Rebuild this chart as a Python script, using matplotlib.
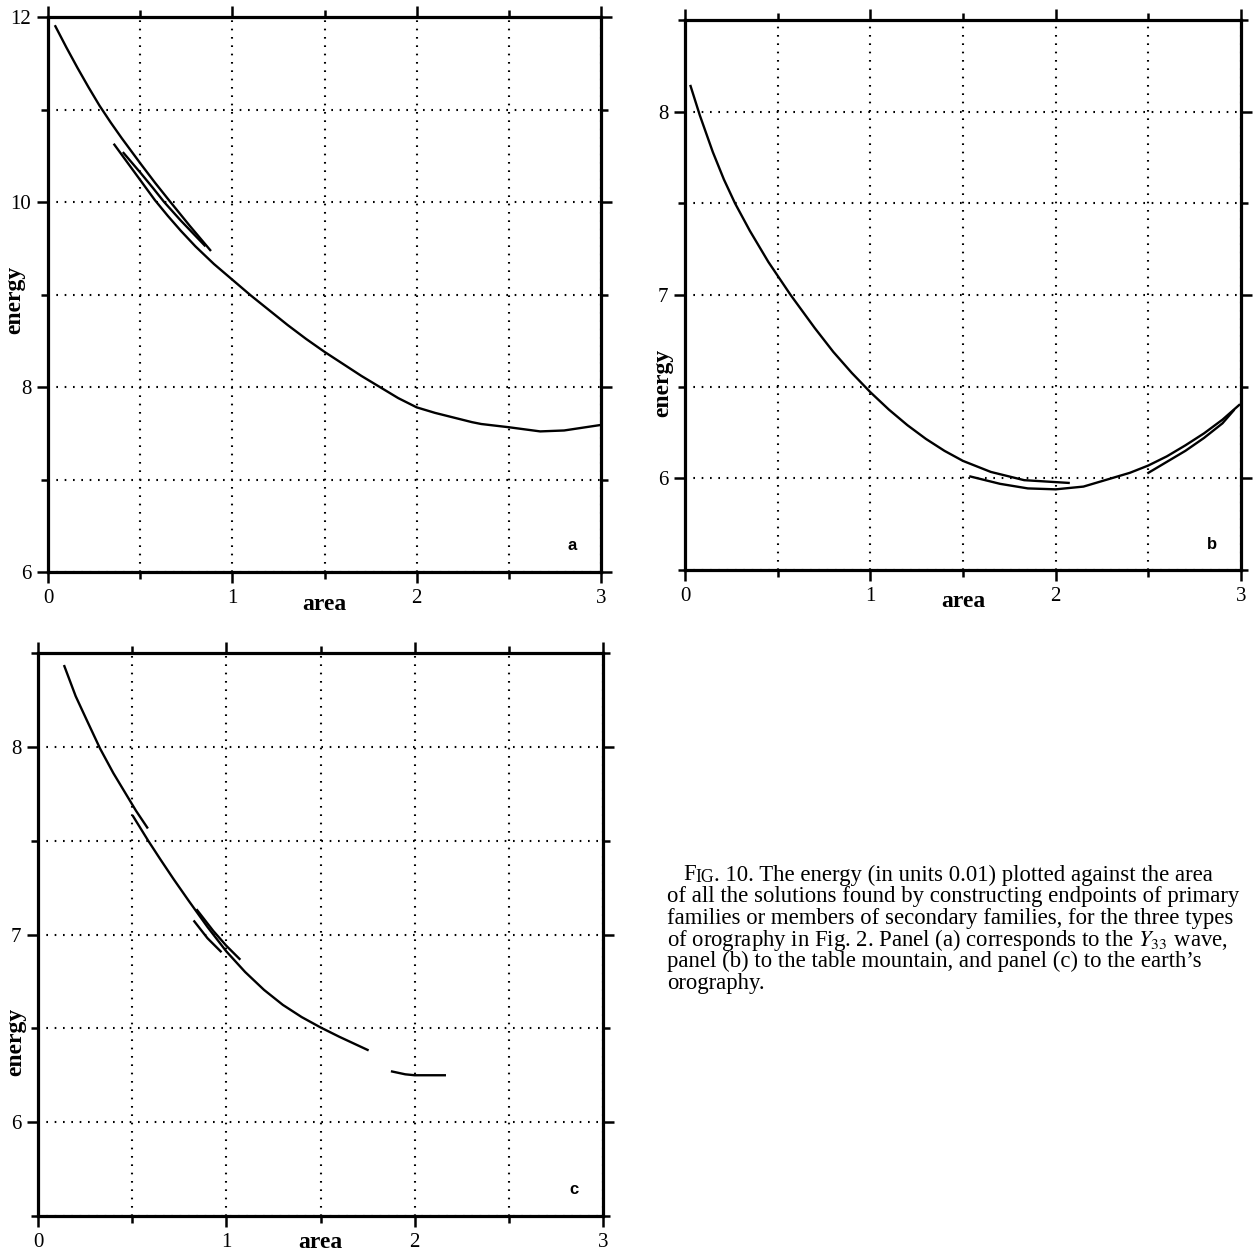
import matplotlib.pyplot as plt
from matplotlib.ticker import MultipleLocator, FormatStrFormatter

plt.rcParams['font.family'] = ['Liberation Serif', 'DejaVu Serif']
plt.rcParams['mathtext.fontset'] = 'stix'

# panel a (Y33 wave): energy against area, several branches
a_upper_x = [0.04, 0.1, 0.16, 0.22, 0.28, 0.34, 0.4, 0.5, 0.58, 0.66, 0.77, 0.88]
a_upper_y = [11.9, 11.67, 11.45, 11.24, 11.04, 10.86, 10.69, 10.42, 10.21, 10.01, 9.74, 9.48]
a_mid_x = [0.41, 0.5, 0.57, 0.63, 0.72, 0.85]
a_mid_y = [10.53, 10.32, 10.15, 10.0, 9.8, 9.53]
a_lower_x = [0.36, 0.47, 0.58, 0.65, 0.72, 0.8, 0.9, 1.0, 1.1, 1.2, 1.3, 1.4, 1.5,
             1.6, 1.7, 1.8, 1.9, 2.0, 2.1, 2.2, 2.3, 2.35, 2.5, 2.67, 2.8, 2.9, 3.0]
a_lower_y = [10.62, 10.32, 10.02, 9.85, 9.69, 9.52, 9.33, 9.16, 8.99, 8.83, 8.67, 8.52, 8.38,
             8.25, 8.12, 8.0, 7.88, 7.78, 7.72, 7.67, 7.62, 7.6, 7.565, 7.52, 7.53, 7.56, 7.59]

# panel b (table mountain)
b_main_x = [0.03, 0.08, 0.15, 0.21, 0.27, 0.35, 0.45, 0.57, 0.7, 0.8, 0.9, 1.0, 1.1,
            1.2, 1.3, 1.4, 1.5, 1.65, 1.83, 2.07]
b_main_y = [8.14, 7.98, 7.78, 7.63, 7.5, 7.35, 7.18, 7.0, 6.82, 6.69, 6.575, 6.47, 6.375,
            6.29, 6.215, 6.15, 6.095, 6.035, 5.99, 5.975]
b_low_x = [1.54, 1.7, 1.85, 2.0, 2.15, 2.3, 2.4, 2.5, 2.6, 2.7, 2.8, 2.9, 2.99]
b_low_y = [6.01, 5.97, 5.945, 5.94, 5.955, 6.0, 6.03, 6.07, 6.12, 6.18, 6.245, 6.32, 6.40]
b_right_x = [2.5, 2.6, 2.7, 2.8, 2.9, 2.96]
b_right_y = [6.03, 6.09, 6.15, 6.22, 6.3, 6.37]

# panel c (earth's orography)
c_top_x = [0.14, 0.2, 0.26, 0.33, 0.4, 0.46, 0.52, 0.58]
c_top_y = [8.43, 8.27, 8.14, 7.99, 7.86, 7.76, 7.66, 7.57]
c_main_x = [0.505, 0.585, 0.65, 0.72, 0.8, 0.9, 1.0, 1.1, 1.2, 1.3, 1.4, 1.5, 1.6, 1.75]
c_main_y = [7.63, 7.5, 7.4, 7.295, 7.18, 7.04, 6.91, 6.8, 6.705, 6.625, 6.56, 6.505,
            6.455, 6.385]
c_br1_x = [0.845, 0.93, 1.0, 1.07]
c_br1_y = [7.13, 7.02, 6.94, 6.87]
c_br2_x = [0.83, 0.9, 0.97]
c_br2_y = [7.07, 6.98, 6.91]
c_far_x = [1.88, 1.95, 2.0, 2.16]
c_far_y = [6.27, 6.255, 6.25, 6.25]

caption_first = ". 10. The energy (in units 0.01) plotted against the area"
caption = [
    "of all the solutions found by constructing endpoints of primary",
    "families or members of secondary families, for the three types",
    "of orography in Fig. 2. Panel (a) corresponds to the $Y_{33}$ wave,",
    "panel (b) to the table mountain, and panel (c) to the earth\u2019s",
    "orography.",
]

W, H = 1253, 1254
fig = plt.figure(figsize=(W / 100, H / 100), dpi=100)


def px_axes(left, top, right, bottom):
    return fig.add_axes([left / W, 1 - bottom / H, (right - left) / W, (bottom - top) / H])


def setup_axis(ax, ylim, ymajor, yminor, letter, ylab_pos, xlab_y):
    ax.set_xlim(0, 3)
    ax.set_ylim(*ylim)
    ax.xaxis.set_major_locator(MultipleLocator(1))
    ax.xaxis.set_minor_locator(MultipleLocator(0.5))
    ax.yaxis.set_major_locator(MultipleLocator(ymajor))
    ax.yaxis.set_minor_locator(MultipleLocator(yminor))
    ax.xaxis.set_major_formatter(FormatStrFormatter('%d'))
    ax.yaxis.set_major_formatter(FormatStrFormatter('%d'))
    ax.grid(True, which='both', color='black', linestyle=(0, (0.8, 3.2)), linewidth=1.5)
    for s in ax.spines.values():
        s.set_linewidth(2.3)
    ax.tick_params(which='both', direction='out', top=True, right=True, width=1.8,
                   labelsize=15, pad=4)
    ax.tick_params(which='major', length=8)
    ax.tick_params(which='minor', length=5)
    ax.text(0.5, xlab_y, "area", transform=ax.transAxes, ha='center', va='center',
            fontsize=17, fontweight='bold')
    ax.text(ylab_pos[0], ylab_pos[1], "energy", transform=ax.transAxes, rotation=90,
            ha='center', va='center', fontsize=17, fontweight='bold')
    ax.text(0.948, 0.047, letter, transform=ax.transAxes, ha='center', va='center',
            fontsize=12, fontweight='bold', family='Liberation Sans')


def plot_lines(ax, lines):
    for x, y in lines:
        ax.plot(x, y, color='black', linewidth=1.7)


ax_a = px_axes(48, 17, 601, 572)
setup_axis(ax_a, (6, 12), 2, 1, "a", (-0.06, 0.49), -0.058)
plot_lines(ax_a, [(a_upper_x, a_upper_y), (a_mid_x, a_mid_y), (a_lower_x, a_lower_y)])

ax_b = px_axes(685, 20, 1241, 570)
setup_axis(ax_b, (5.5, 8.5), 1, 0.5, "b", (-0.04, 0.34), -0.058)
plot_lines(ax_b, [(b_main_x, b_main_y), (b_low_x, b_low_y), (b_right_x, b_right_y)])

ax_c = px_axes(38, 653, 603, 1216)
setup_axis(ax_c, (5.5, 8.5), 1, 0.5, "c", (-0.04, 0.31), -0.047)
plot_lines(ax_c, [(c_top_x, c_top_y), (c_main_x, c_main_y), (c_br1_x, c_br1_y),
                  (c_br2_x, c_br2_y), (c_far_x, c_far_y)])

# caption, first line starts with small caps "FIG."
fs = 16.4
pitch = 21.7
y0 = 875
t1 = fig.text(683 / W, 1 - y0 / H, "F", fontsize=fs, va='center', ha='left')
t2 = plt.annotate("IG", xy=(1, 0), xycoords=t1, fontsize=fs * 0.78, va='bottom', ha='left')
plt.annotate(caption_first, xy=(1, 0), xycoords=t2, fontsize=fs, va='bottom', ha='left')
for i, line in enumerate(caption):
    fig.text(667 / W, 1 - (y0 + pitch * (i + 1)) / H, line, fontsize=fs,
             va='center', ha='left')

fig.savefig('out.png', dpi=100)
